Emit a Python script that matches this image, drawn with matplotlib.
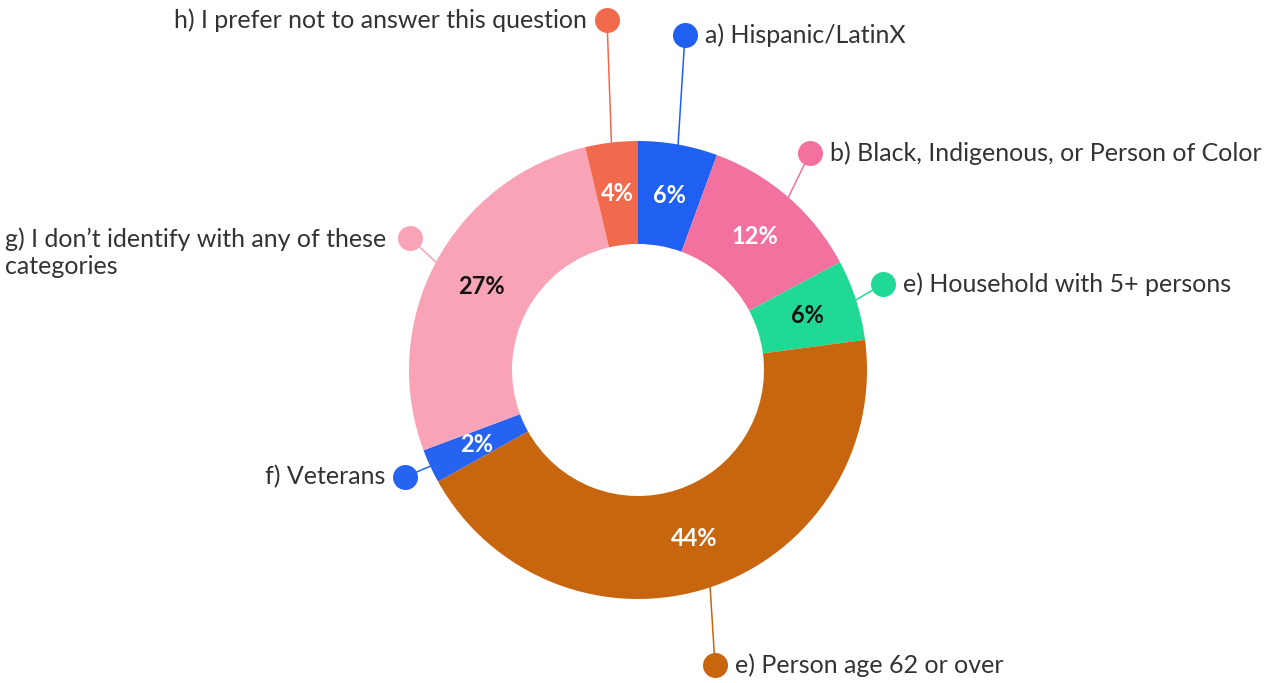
import numpy as np
import matplotlib.pyplot as plt

# slices, clockwise from 12 o'clock
categories = [
    "a) Hispanic/LatinX",
    "b) Black, Indigenous, or Person of Color",
    "e) Household with 5+ persons",
    "e) Person age 62 or over",
    "f) Veterans",
    "g) I don\u2019t identify with any of these\ncategories",
    "h) I prefer not to answer this question",
]
values = [5.6, 11.6, 5.7, 44.0, 2.4, 27.0, 3.7]
pct_labels = ["6%", "12%", "6%", "44%", "2%", "27%", "4%"]
colors = ["#1f5ff2", "#f2719f", "#1fd995", "#c8650f", "#2563f0", "#f9a3b6", "#f26a4e"]
pct_colors = ["white", "white", "#111111", "white", "white", "#111111", "white"]

W, H = 1274, 683


def main():
    fig = plt.figure(figsize=(W / 100, H / 100), dpi=100)
    ax = fig.add_axes([0, 0, 1, 1])

    cx, cy = 638, H - 370
    R, ring = 229, 103
    wedges, _ = ax.pie(values, colors=colors, startangle=90, counterclock=False,
                       radius=R, center=(cx, cy),
                       wedgeprops=dict(width=ring, linewidth=0))
    ax.set_xlim(0, W)
    ax.set_ylim(0, H)
    ax.set_aspect("auto")
    ax.axis("off")

    # dot position (px from top-left) and which side the text goes
    dots = [(685, 35, "r"), (810, 153, "r"), (883, 284, "r"), (715, 665, "r"),
            (405, 477, "l"), (410, 238, "g"), (607, 20, "l")]

    for w, lab, pc, col, cat, (dx, dy, side) in zip(wedges, pct_labels, pct_colors,
                                                    colors, categories, dots):
        mid = np.deg2rad((w.theta1 + w.theta2) / 2)
        rm = R - ring / 2
        ax.text(cx + rm * np.cos(mid), cy + rm * np.sin(mid), lab, color=pc,
                ha="center", va="center", fontsize=17, fontweight="bold",
                family="Lato")
        x0, y0 = cx + R * np.cos(mid), cy + R * np.sin(mid)
        ax.plot([x0, dx], [y0, H - dy], color=col, lw=1.1, zorder=3)
        ax.plot(dx, H - dy, "o", ms=18, color=col, mec="none", zorder=4)
        if side == "r":
            ax.text(dx + 20, H - dy, cat, ha="left", va="center", fontsize=18,
                    color="#333333", family="Lato")
        elif side == "l":
            ax.text(dx - 20, H - dy, cat, ha="right", va="center", fontsize=18,
                    color="#333333", family="Lato")
        else:
            ax.text(5, H - dy - 15, cat, ha="left", va="center", fontsize=18,
                    color="#333333", family="Lato", linespacing=1.2)

    plt.savefig("out.png", dpi=100)
    plt.close()


if __name__ == "__main__":
    main()
